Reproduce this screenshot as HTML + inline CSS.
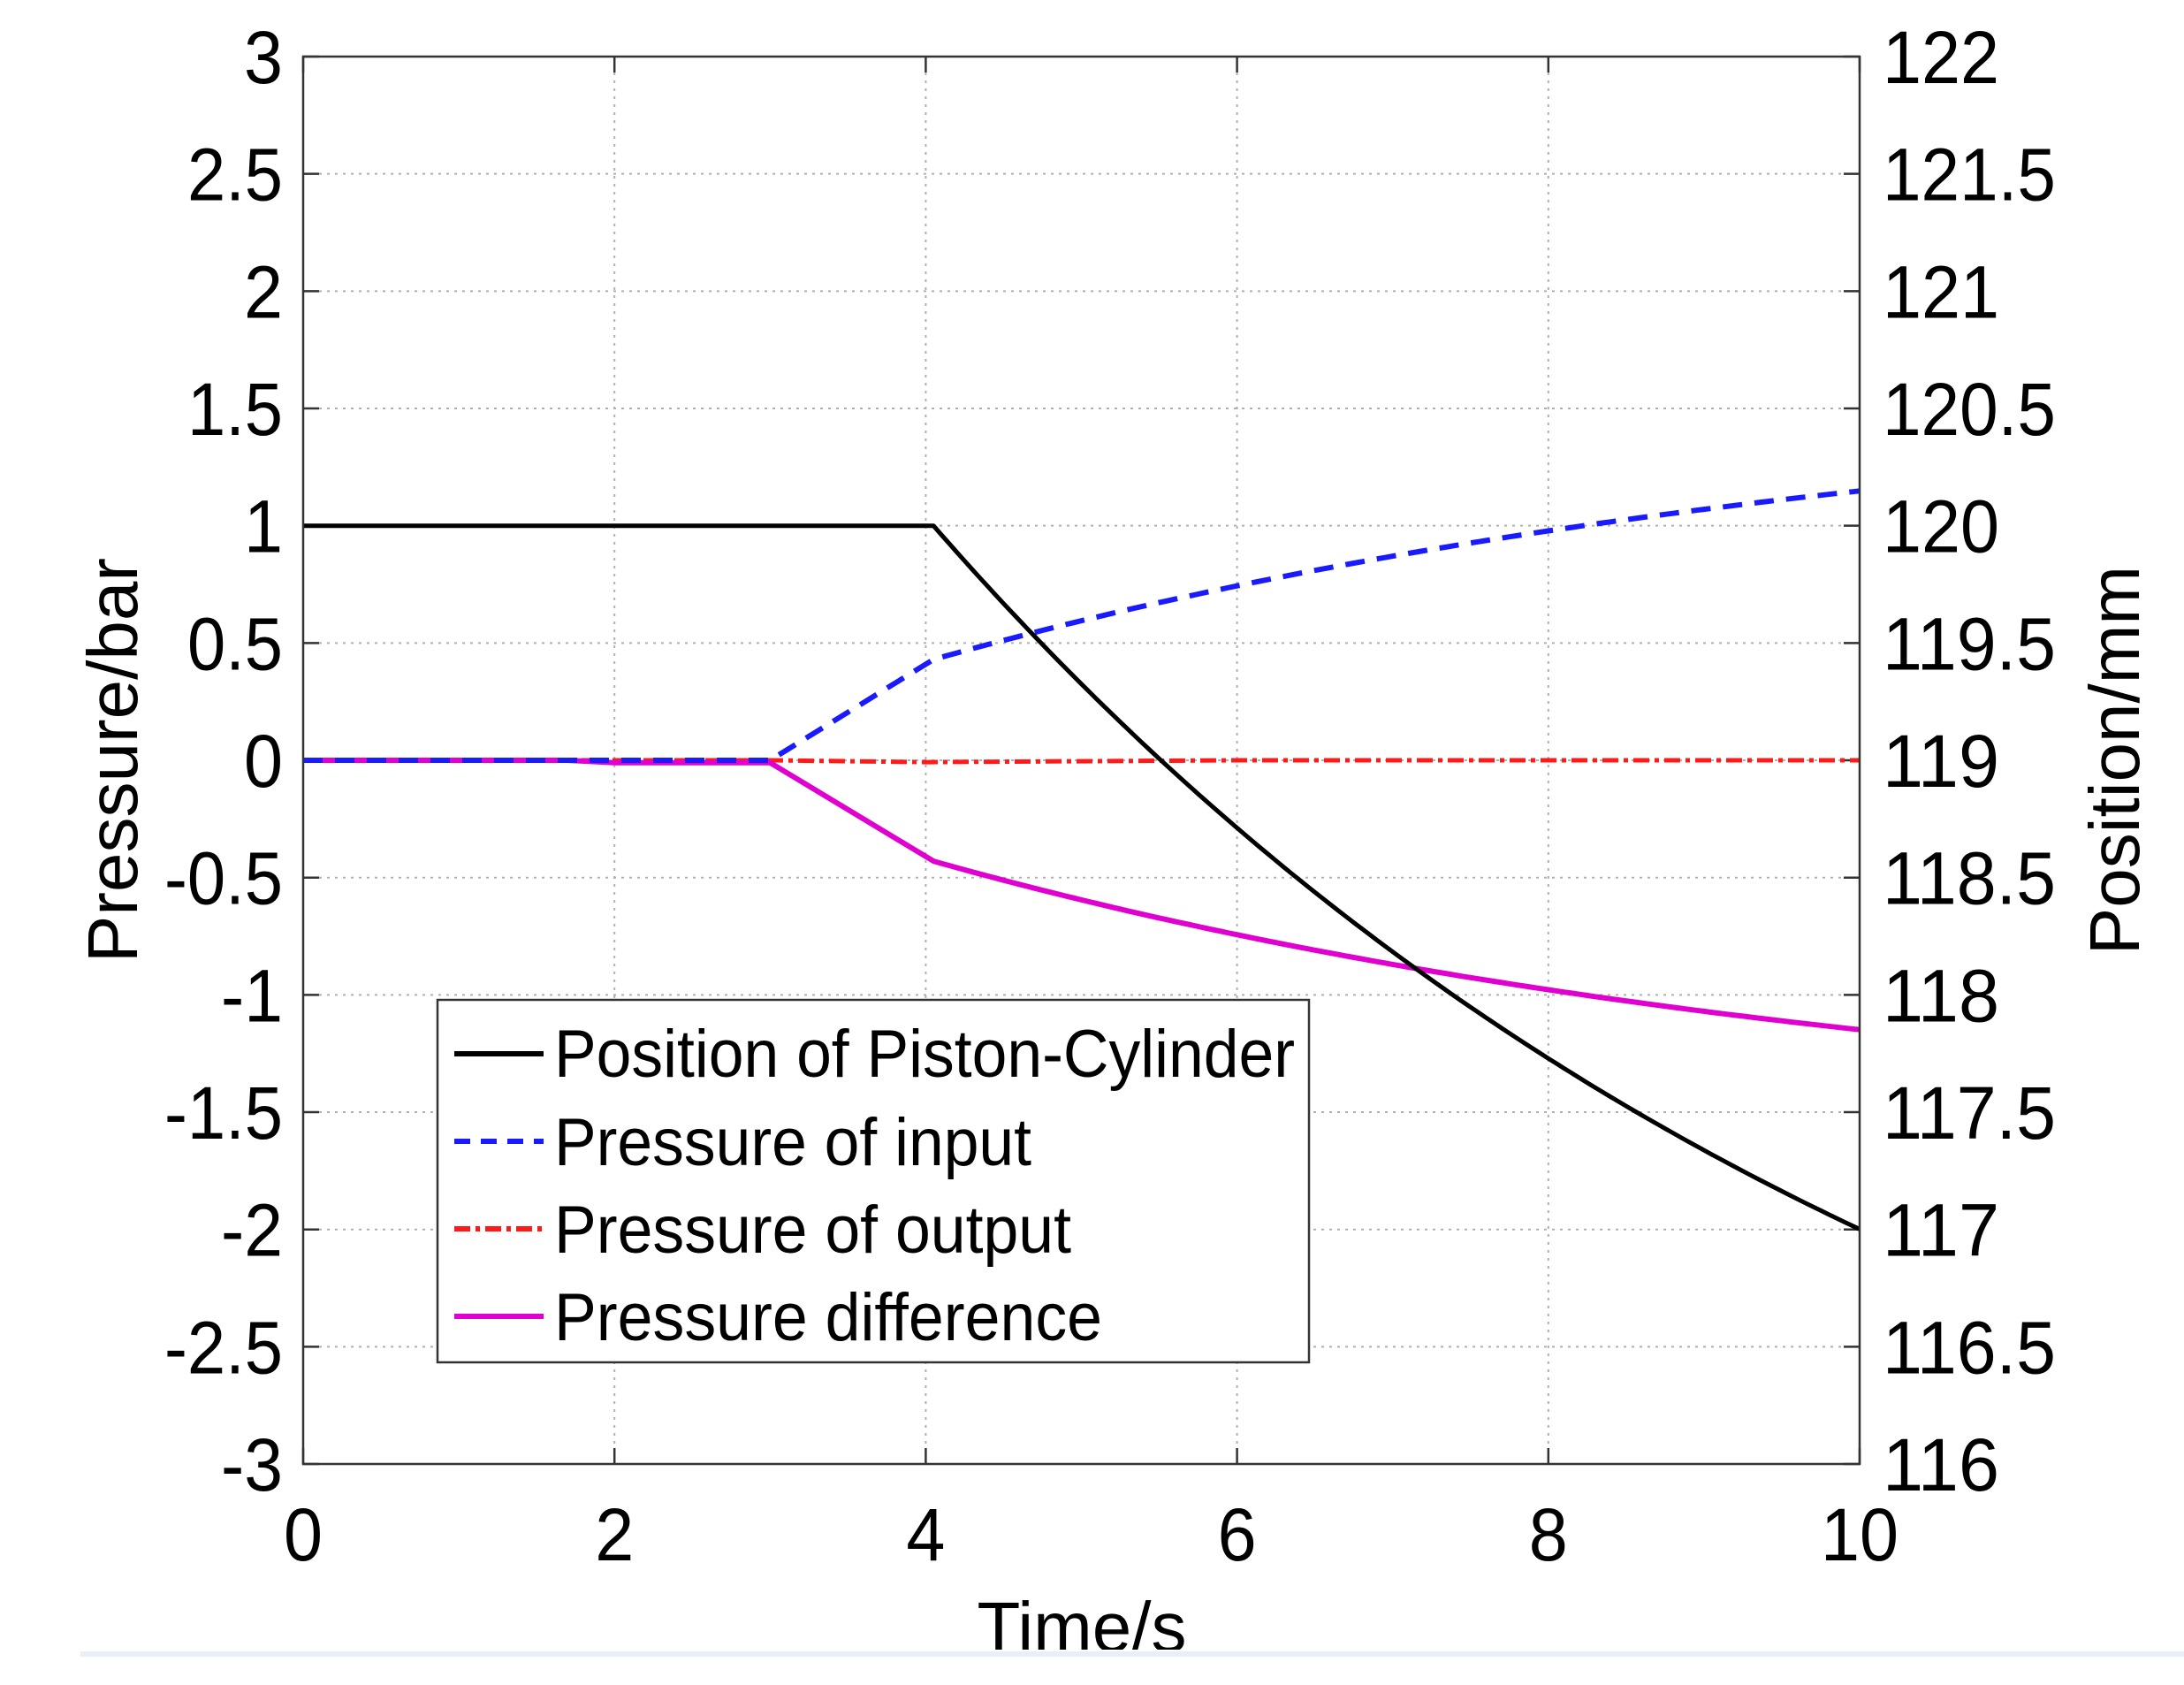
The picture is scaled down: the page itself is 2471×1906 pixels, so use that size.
<!DOCTYPE html>
<html><head><meta charset="utf-8"><style>
html,body{margin:0;padding:0;background:#fff;width:2471px;height:1906px;overflow:hidden}
svg text{font-family:"Liberation Sans",Arial,sans-serif;fill:#000}
</style></head><body>
<svg id="s" width="2471" height="1906" viewBox="0 0 2471 1906" xmlns="http://www.w3.org/2000/svg">
<rect width="2471" height="1906" fill="#fff"/>
<g id="grid" stroke="#b0b0b0" stroke-width="2" stroke-dasharray="3,6" fill="none"></g>
<g id="ticks" stroke="#333" stroke-width="2.5"></g>
<g id="curves" fill="none" stroke-linejoin="round"></g>
<rect x="343" y="64" width="1761" height="1592" fill="none" stroke="#333" stroke-width="2.5"/>
<g id="labels" font-size="84"></g>
<text x="0" y="0" font-size="80" text-anchor="middle" transform="translate(155,860) rotate(-90)">Pressure/bar</text>
<text x="0" y="0" font-size="80" text-anchor="middle" transform="translate(2420,860) rotate(-90)">Position/mm</text>
<text x="1224" y="1868" font-size="80" text-anchor="middle">Time/s</text>
<rect x="0" y="1866" width="2471" height="40" fill="#fff"/>
<rect x="91" y="1868" width="2380" height="6" fill="#e8eff7"/>
<g>
<rect x="495" y="1131" width="986" height="410" fill="#fff" stroke="#333" stroke-width="2.5"/>
<line x1="514" y1="1192" x2="615" y2="1192" stroke="#000" stroke-width="6"/>
<line x1="514" y1="1291" x2="615" y2="1291" stroke="#1a1aff" stroke-width="6" stroke-dasharray="18,12"/>
<line x1="514" y1="1390" x2="615" y2="1390" stroke="#ff1a1a" stroke-width="6" stroke-dasharray="18,6,5,6"/>
<line x1="514" y1="1489" x2="615" y2="1489" stroke="#e000d0" stroke-width="6"/>
<text x="627" y="1218" font-size="76" textLength="838" lengthAdjust="spacingAndGlyphs">Position of Piston-Cylinder</text>
<text x="627" y="1318" font-size="76" textLength="540" lengthAdjust="spacingAndGlyphs">Pressure of input</text>
<text x="627" y="1417" font-size="76" textLength="585" lengthAdjust="spacingAndGlyphs">Pressure of output</text>
<text x="627" y="1516" font-size="76" textLength="620" lengthAdjust="spacingAndGlyphs">Pressure difference</text>
</g>
</svg>
<script>
const NS="http://www.w3.org/2000/svg";
const X=t=>343+176.1*t, Y=p=>1656-265.33*(p+3), YR=v=>1656-265.33*(v-116);
function el(p,tag,a,txt){const e=document.createElementNS(NS,tag);for(const k in a)e.setAttribute(k,a[k]);if(txt!==undefined)e.textContent=txt;document.getElementById(p).appendChild(e);return e;}
for(let t=2;t<10;t+=2){el('grid','line',{x1:X(t),y1:64,x2:X(t),y2:1656});}
for(let i=1;i<12;i++){const y=64+i*132.67;el('grid','line',{x1:343,y1:y,x2:2104,y2:y});}
for(let t=0;t<=10;t+=2){el('ticks','line',{x1:X(t),y1:1656,x2:X(t),y2:1638});el('ticks','line',{x1:X(t),y1:64,x2:X(t),y2:82});
 const s=String(t);el('labels','text',{x:X(t),y:1765,'text-anchor':'middle',textLength:s.length*44,lengthAdjust:'spacingAndGlyphs'},s);}
for(let i=0;i<=12;i++){const y=64+i*132.67;el('ticks','line',{x1:343,y1:y,x2:361,y2:y});el('ticks','line',{x1:2104,y1:y,x2:2086,y2:y});
 const p=String(3-i*0.5), r=String(122-i*0.5);
 const w=s=>{let n=0;for(const c of s)n+=(c=='.'?20:(c=='-'?26:44));return n;};
 el('labels','text',{x:320,y:y+30,'text-anchor':'end',textLength:w(p),lengthAdjust:'spacingAndGlyphs'},p);
 el('labels','text',{x:2130,y:y+30,textLength:w(r),lengthAdjust:'spacingAndGlyphs'},r);}
function path(pts,f){return pts.map((q,i)=>(i?'L':'M')+X(q[0]).toFixed(1)+','+f(q[1]).toFixed(1)).join(' ');}
function fn(t0,t1,g){const o=[];for(let t=t0;t<=t1+1e-9;t+=0.05)o.push([t,g(t)]);return o;}
el('curves','path',{d:path([[0,0],[3,0],[4,-0.008],[6,0],[10,0]],Y),stroke:'#ff1a1a','stroke-width':5,'stroke-dasharray':'18,6,5,6'});
const diff=t=>-0.43-1.17*(1-Math.exp(-0.16*(t-4.05)));
const inp=t=>0.43+1.17*(1-Math.exp(-0.16*(t-4.05)));
el('curves','path',{d:path([[0,0],[1.7,0],[2,-0.01],[3,-0.01]].concat(fn(4.05,10,diff)),Y),stroke:'#e000d0','stroke-width':6});
el('curves','path',{d:path([[0,0],[3,0]].concat(fn(4.05,10,inp)),Y),stroke:'#1a1aff','stroke-width':6,'stroke-dasharray':'22,14'});
const pos=t=>120-5.08*(1-Math.exp(-0.15*(t-4.05)));
el('curves','path',{d:path([[0,120]].concat(fn(4.05,10,pos)),YR),stroke:'#000','stroke-width':5});
</script>
</body></html>
